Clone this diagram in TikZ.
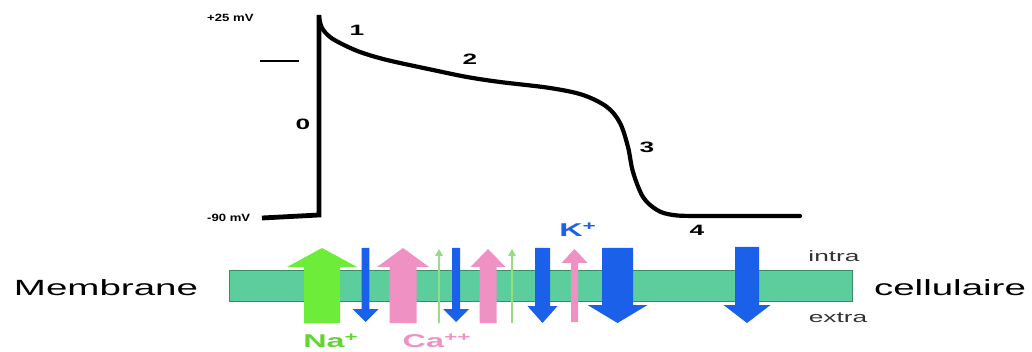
\documentclass[tikz,border=0pt]{standalone}
\usepackage{fontspec}
\setmainfont{Liberation Sans}
\definecolor{ngreen}{RGB}{110,236,58}
\definecolor{lgreen}{RGB}{150,222,130}
\definecolor{npink}{RGB}{240,145,195}
\definecolor{nblue}{RGB}{26,96,232}
\definecolor{memfill}{RGB}{92,205,157}
\definecolor{memdraw}{RGB}{60,140,100}
\newcommand\hs[1]{\scalebox{1.75}[1]{#1}}
\newcommand\hsm[1]{\scalebox{1.25}[1]{#1}}
% color, cx, shaft half, head half, tip y, head base y, tail y
\newcommand\ionarr[7]{\fill[#1] ({#2-#3},#7) -- ({#2-#3},#6) -- ({#2-#4},#6) -- (#2,#5) -- ({#2+#4},#6) -- ({#2+#3},#6) -- ({#2+#3},#7) -- cycle;}
\tikzset{
  lbl/.style={inner sep=0pt, font=\fontsize{15}{15}\selectfont\bfseries},
  mv/.style={inner sep=0pt, anchor=west, font=\fontsize{10.5}{10.5}\selectfont\bfseries},
  big/.style={inner sep=0pt, font=\fontsize{22}{22}\selectfont},
  side/.style={inner sep=0pt, text=black!80, font=\fontsize{15}{15}\selectfont},
  ion/.style={inner sep=0pt, font=\fontsize{18.5}{18.5}\selectfont\bfseries},
  curve/.style={line width=4.2pt, line cap=round, line join=round},
}
\begin{document}
\begin{tikzpicture}[x=1pt,y=-1pt]
\useasboundingbox (0,0) rectangle (1032,352);
% potential curve
\draw[line width=4.8pt, line join=miter] (262,218) -- (319,215) -- (319,15);
\draw[curve] plot[smooth, tension=0.55] coordinates {(319,17) (322,28) (330,37) (342,44) (360,52) (387,60) (433,70) (467,77) (500,82) (550,88) (583,95) (607,107) (620,123) (628,147) (633,172) (643,197) (657,210) (673,215) (700,216) (800,216)};
\draw[line width=2pt] (260,61) -- (299,61);
\node[mv] (p25) at (207,18) {\hsm{+25 mV}};
\node[mv] (m90) at (207,218) {\hsm{-90 mV}};
\node[lbl] (ph0) at (303,124) {\hs{0}};
\node[lbl] (ph1) at (357,30) {\hs{1}};
\node[lbl] (ph2) at (470,59) {\hs{2}};
\node[lbl] (ph3) at (647,147) {\hs{3}};
\node[lbl] (ph4) at (697,230) {\hs{4}};
% membrane
\draw[fill=memfill, draw=memdraw, line width=0.8pt] (229,270) rectangle (852,301);
% arrows
\ionarr{ngreen}{322}{18}{35}{248}{267}{323}
\ionarr{nblue}{365.5}{3.8}{13}{322}{309}{248}
\ionarr{npink}{403}{13.5}{26}{248}{267}{323}
\ionarr{lgreen}{439}{0.8}{4}{249}{256}{323}
\ionarr{nblue}{456}{4}{13}{322}{309}{248}
\ionarr{npink}{488}{8.5}{17.5}{249}{267}{323}
\ionarr{lgreen}{512}{0.8}{4}{249}{256}{323}
\ionarr{nblue}{542.5}{7.5}{15}{323}{306}{248}
\ionarr{npink}{574.5}{3.5}{13}{249}{263}{322}
\ionarr{nblue}{617.5}{15.5}{30}{323}{305}{248}
\ionarr{nblue}{747}{12}{23.5}{323}{305}{247}
% texts
\node[big] (memb) at (106,288) {\hs{Membrane}};
\node[big] (cell) at (950,288) {\hs{cellulaire}};
\node[side] (intra) at (834,256) {\hs{intra}};
\node[side] (extra) at (838,318) {\hs{extra}};
\node[ion, text=nblue] (kion) at (578,230) {\hs{K\textsuperscript{+}}};
\node[ion, text=ngreen!90!black] (naion) at (331,341) {\hs{Na\textsuperscript{+}}};
\node[ion, text=npink] (caion) at (437,341) {\hs{Ca\textsuperscript{++}}};
\end{tikzpicture}
\end{document}
